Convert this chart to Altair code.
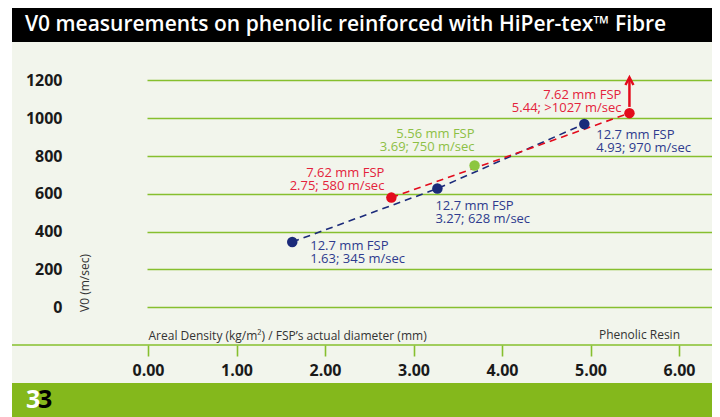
import altair as alt
import pandas as pd

# ---------------- data ----------------
title = "V0 measurements on phenolic reinforced with HiPer-tex\u2122 Fibre"
x_title = "Areal Density (kg/m\u00b2) / FSP\u2019s actual diameter (mm)"
y_title = "V0 (m/sec)"
resin = "Phenolic Resin"
page_no = "3"

fsp = ["12.7 mm FSP", "7.62 mm FSP", "12.7 mm FSP", "5.56 mm FSP", "12.7 mm FSP", "7.62 mm FSP"]
areal_density = [1.63, 2.75, 3.27, 3.69, 4.93, 5.44]
v0 = [345, 580, 628, 750, 970, 1027]
v0_text = ["345", "580", "628", "750", "970", ">1027"]

series_names = ["12.7 mm FSP", "7.62 mm FSP", "5.56 mm FSP"]
x_ticks = [0, 1, 2, 3, 4, 5, 6]
y_ticks = [0, 200, 400, 600, 800, 1000, 1200]

arrow_x = [5.44]
arrow_from = [1060]
arrow_tip = [1215]
arrow_head = [1195]

# ---------------- styles ----------------
FONT = "Open Sans"
BG = "#f2f5ec"
GRID = "#86bf2e"
BAR_GREEN = "#84b81c"
DOT_COLORS = ["#1b2a7a", "#e30b1c", "#8cc63f"]
TEXT_COLORS = ["#2e3b8e", "#e4223b", "#8dc045"]
BLUE, RED = DOT_COLORS[0], DOT_COLORS[1]

W, H = 565, 284
PX = 88.5
x_scale = alt.Scale(domain=[-1 / PX, (W - 1) / PX], nice=False, zero=False)
y_scale = alt.Scale(domain=[-200, 1303], nice=False, zero=False)

df = pd.DataFrame({"fsp": fsp, "density": areal_density, "v0": v0, "v0_text": v0_text})
df["idx"] = range(len(df))
df["label"] = [f"{f}\n{d:.2f}; {t} m/sec" for f, d, t in zip(fsp, areal_density, v0_text)]

one = pd.DataFrame({"k": [0]})

x_axis = alt.Axis(
    values=x_ticks, format=".2f", domain=False, grid=False, ticks=True,
    tickColor=GRID, tickSize=11, tickWidth=1.6, labelFlush=False,
    labelFont=FONT, labelFontSize=16, labelFontWeight=700, labelColor="#1a1a1a",
    labelPadding=6, title=x_title, titleFont=FONT, titleFontSize=12,
    titleFontWeight="normal", titleColor="#333333", titleX=1, titleY=-6,
    titleAlign="left", titleBaseline="alphabetic",
)
y_axis = alt.Axis(
    values=y_ticks, format="d", grid=True, gridColor=GRID, gridWidth=1.6, domain=False,
    ticks=False, tickSize=0, labelFont=FONT, labelFontSize=16, labelFontWeight=700,
    labelColor="#1a1a1a", labelPadding=85, title=y_title, titleFont=FONT,
    titleFontSize=12, titleFontWeight="normal", titleColor="#333333",
    titleAngle=270, titleX=-63, titleY=221.5, titleAlign="center", titleBaseline="middle",
)


def X(f="density:Q"):
    return alt.X(f, scale=x_scale, axis=x_axis)


def Y(f="v0:Q"):
    return alt.Y(f, scale=y_scale, axis=y_axis)


# ---------------- decorations ----------------
white_strip = alt.Chart(one).mark_rect(color="white").encode(
    x=alt.value(-139), x2=alt.value(-135), y=alt.value(-53), y2=alt.value(356))
black_bar = alt.Chart(one).mark_rect(color="black").encode(
    x=alt.value(-135), x2=alt.value(565), y=alt.value(-53), y2=alt.value(-19))
green_bar = alt.Chart(one).mark_rect(color=BAR_GREEN).encode(
    x=alt.value(-135), x2=alt.value(565), y=alt.value(322), y2=alt.value(356))
title_text = alt.Chart(pd.DataFrame({"t": [title]})).mark_text(
    align="left", baseline="alphabetic", fontSize=21, fontWeight=600, color="white", font=FONT
).encode(x=alt.value(-122), y=alt.value(-30), text="t:N")
foot_w = alt.Chart(pd.DataFrame({"t": [page_no]})).mark_text(
    align="left", baseline="alphabetic", fontSize=25, fontWeight=700, color="white", font=FONT
).encode(x=alt.value(-121), y=alt.value(347), text="t:N")
foot_b = alt.Chart(pd.DataFrame({"t": [page_no]})).mark_text(
    align="left", baseline="alphabetic", fontSize=25, fontWeight=700, color="black", font=FONT
).encode(x=alt.value(-109), y=alt.value(347), text="t:N")
axis_line = alt.Chart(one).mark_rule(color=GRID, strokeWidth=1.6).encode(
    x=alt.value(-135), x2=alt.value(565), y=alt.value(284))
resin_text = alt.Chart(pd.DataFrame({"t": [resin]})).mark_text(
    align="right", baseline="alphabetic", fontSize=12, color="#333333", font=FONT
).encode(x=alt.value(533), y=alt.value(278), text="t:N")

# ---------------- data marks ----------------
base = alt.Chart(df)
line_blue = base.transform_filter(alt.datum.fsp == "12.7 mm FSP").mark_line(
    strokeDash=[7, 5], strokeWidth=1.6, color=BLUE).encode(x=X(), y=Y(), order="density:Q")
line_red = base.transform_filter(alt.datum.fsp == "7.62 mm FSP").mark_line(
    strokeDash=[7, 5], strokeWidth=1.6, color=RED).encode(x=X(), y=Y(), order="density:Q")

adf = pd.DataFrame({"density": arrow_x, "v0": arrow_from, "y1": arrow_tip, "yh": arrow_head})
arrow_rule = alt.Chart(adf).mark_rule(color=RED, strokeWidth=2.5).encode(
    x=X(), y=Y(), y2="y1:Q")
arrow_hd = alt.Chart(adf).mark_point(
    shape="M-1,0.9L0,-1L1,0.9", filled=False, size=64, strokeWidth=2.4, color=RED, opacity=1
).encode(x=X(), y=Y("yh:Q"))

points = base.mark_circle(size=110, opacity=1).encode(
    x=X(), y=Y(),
    color=alt.Color("fsp:N", scale=alt.Scale(domain=series_names, range=DOT_COLORS), legend=None),
)

# label placement (pixel offsets from each point), kept apart from the data
placement = [
    (18, 8, "left"),
    (-7, -21, "right"),
    (-2, 21, "left"),
    (0, -27, "right"),
    (12, 15, "left"),
    (-8, -14, "right"),
]
labels = []
for i, (dx, dy, al) in enumerate(placement):
    col = TEXT_COLORS[series_names.index(fsp[i])]
    labels.append(
        base.transform_filter(alt.datum.idx == i).mark_text(
            align=al, baseline="alphabetic", dx=dx, dy=dy, fontSize=13, font=FONT,
            color=col, lineBreak="\n", lineHeight=13,
        ).encode(x=X(), y=Y(), text="label:N")
    )

chart = alt.layer(
    white_strip, black_bar, green_bar, title_text, foot_w, foot_b,
    line_blue, line_red, arrow_rule, arrow_hd, points, *labels, axis_line, resin_text,
).properties(
    width=W, height=H,
    padding={"left": 139, "top": 53, "right": 0, "bottom": 72},
    autosize=alt.AutoSizeParams(type="none"),
    background=BG,
).configure(font=FONT).configure_view(stroke=None)

chart.save("out.html", embed_options={"renderer": "svg", "actions": False})
